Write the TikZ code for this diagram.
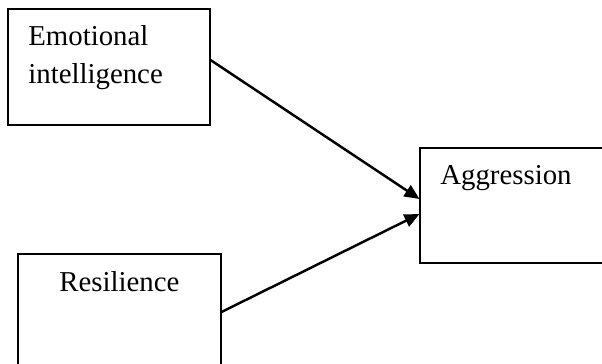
\documentclass[tikz,border=0pt]{standalone}
\usepackage{fontspec}
\setmainfont{Liberation Serif}
\usetikzlibrary{arrows.meta}

\begin{document}
\begin{tikzpicture}[x=0.02cm, y=-0.02cm,
        box/.style={draw, line width=0.6pt, inner sep=0pt, minimum width=4.04cm, minimum height=2.32cm},
        lbl/.style={inner sep=0pt, align=left, font=\fontsize{16.4}{21.6}\selectfont},
        link/.style={line width=1.4pt, -{Triangle[length=0.3cm, width=0.26cm]}}]
        \clip (0,0) rectangle (602,364);
        % The three boxes.
            \node[box] (emo) at (109,67) {};
            \node[box, minimum width=4.06cm] (res) at (119.5,312) {};
            \node[box, minimum height=2.3cm] (agg) at (521,205.5) {};
        % Below nodes are the labels.
            \node[lbl, anchor=north west] (emotxt) at (28,25.5) {Emotional\\intelligence};
            \node[lbl, anchor=base west] (restxt) at (59,292) {Resilience};
            \node[lbl, anchor=base west] (aggtxt) at (440,185) {Aggression};
        % This draws the two arrows.
            \draw[link] ([yshift=0.14cm]emo.east) -- ([yshift=0.13cm]agg.west);
            \draw[link] (res.east) -- ([yshift=-0.17cm]agg.west);
    \end{tikzpicture}
\end{document}
